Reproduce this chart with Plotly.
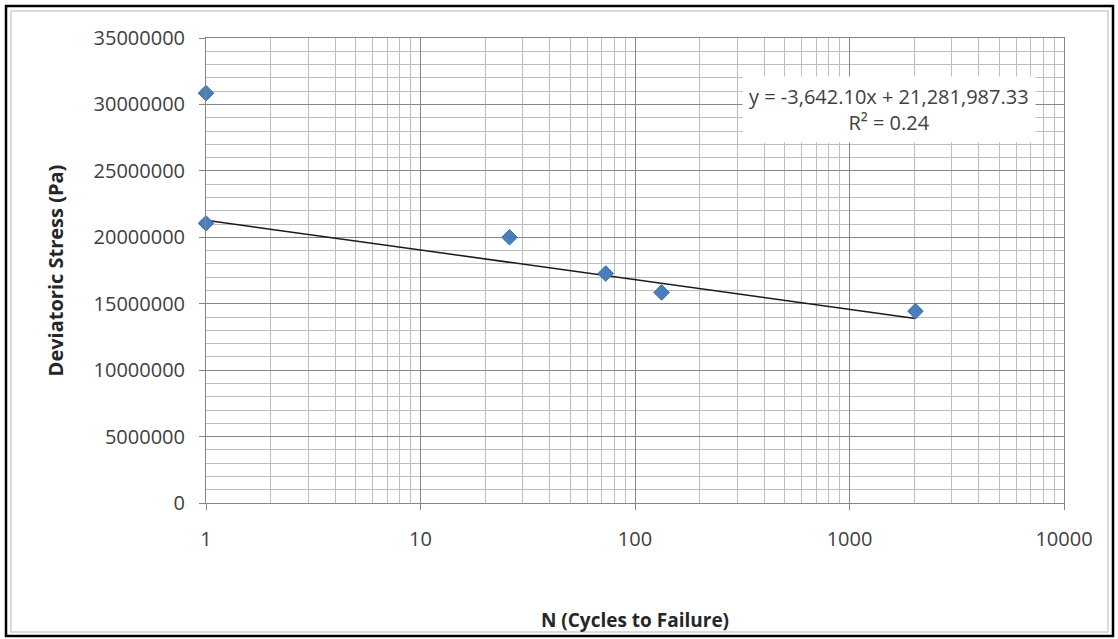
import plotly.graph_objects as go

# Cycles to failure and deviatoric stress at failure
cycles = [1, 1, 26, 73, 133, 2030]
stress_pa = [30850000, 21050000, 20000000, 17270000, 15850000, 14440000]

# Linear trendline coefficients (stress = slope * N + intercept)
slope = -3642.10
intercept = 21281987.33
r_squared = 0.24

x_ticks = [1, 10, 100, 1000, 10000]
x_tick_text = ["1", "10", "100", "1000", "10000"]
y_ticks = [0, 5000000, 10000000, 15000000, 20000000, 25000000, 30000000, 35000000]

W, H = 1118, 639
L, R, T, B = 206, 54, 38, 136
plot_w = W - L - R
plot_h = H - T - B

def px_x(p):
    return (p - L) / plot_w

def px_y(p):
    return (H - B - p) / plot_h

font_family = "Open Sans, DejaVu Sans, sans-serif"
text_color = "#404040"
major_grid = "#868686"
minor_grid = "#bdbdbd"

# Trendline endpoints span the range of the data
x_lo, x_hi = min(cycles), max(cycles)
trend_x = [x_lo, x_hi]
trend_y = [slope * x_lo + intercept, slope * x_hi + intercept]

fig = go.Figure()

fig.add_trace(go.Scatter(
    x=trend_x, y=trend_y, mode="lines",
    line=dict(color="#1a1a1a", width=1.5),
    hoverinfo="skip", showlegend=False,
))

fig.add_trace(go.Scatter(
    x=cycles, y=stress_pa, mode="markers",
    marker=dict(symbol="diamond", size=12, color="#4a7ebb",
                line=dict(color="#3f6ea8", width=1)),
    cliponaxis=False, showlegend=False,
))

eq_text = f"y = {slope:,.2f}x + {intercept:,.2f}<br>R² = {r_squared:.2f}"

fig.update_layout(
    width=W, height=H,
    margin=dict(l=L, r=R, t=T, b=B),
    paper_bgcolor="white", plot_bgcolor="white",
    font=dict(family=font_family, size=20, color=text_color),
    xaxis=dict(
        type="log", range=[0, 4],
        tickmode="array", tickvals=x_ticks, ticktext=x_tick_text,
        showgrid=True, gridcolor=major_grid, gridwidth=1,
        minor=dict(showgrid=True, gridcolor=minor_grid, gridwidth=1,
                   dtick="D1", ticks=""),
        ticks="outside", ticklen=6, tickcolor=major_grid,
        showline=True, linecolor=major_grid, linewidth=1, mirror=True,
        ticklabelstandoff=12,
        zeroline=False,
        title=dict(text="<b>N (Cycles to Failure)</b>", standoff=62,
                   font=dict(size=19, color="#262626")),
        tickfont=dict(size=20, color=text_color),
    ),
    yaxis=dict(
        range=[0, 35000000],
        tickmode="array", tickvals=y_ticks, ticktext=[str(v) for v in y_ticks],
        showgrid=True, gridcolor=major_grid, gridwidth=1,
        minor=dict(showgrid=True, gridcolor=minor_grid, gridwidth=1,
                   dtick=1000000, ticks=""),
        ticks="outside", ticklen=6, tickcolor=major_grid,
        showline=True, linecolor=major_grid, linewidth=1, mirror=True,
        ticklabelstandoff=10,
        zeroline=False,
        title=dict(text="<b>Deviatoric Stress (Pa)</b>", standoff=24,
                   font=dict(size=20, color="#262626")),
        tickfont=dict(size=20, color=text_color),
    ),
    annotations=[dict(
        text=eq_text, xref="paper", yref="paper",
        x=px_x(889), y=px_y(110), xanchor="center", yanchor="middle",
        showarrow=False, align="center",
        bgcolor="white", borderpad=6,
        font=dict(size=20, color=text_color),
    )],
    shapes=[
        # light chart-area frame
        dict(type="rect", xref="paper", yref="paper",
             x0=px_x(11), x1=px_x(1108), y0=px_y(632), y1=px_y(11),
             line=dict(color="#d0d0d0", width=1.5), layer="below"),
        # outer black frame
        dict(type="rect", xref="paper", yref="paper",
             x0=px_x(6), x1=px_x(1113), y0=px_y(636), y1=px_y(6),
             line=dict(color="black", width=2.5), layer="above"),
    ],
)

fig.write_html("out.html")
